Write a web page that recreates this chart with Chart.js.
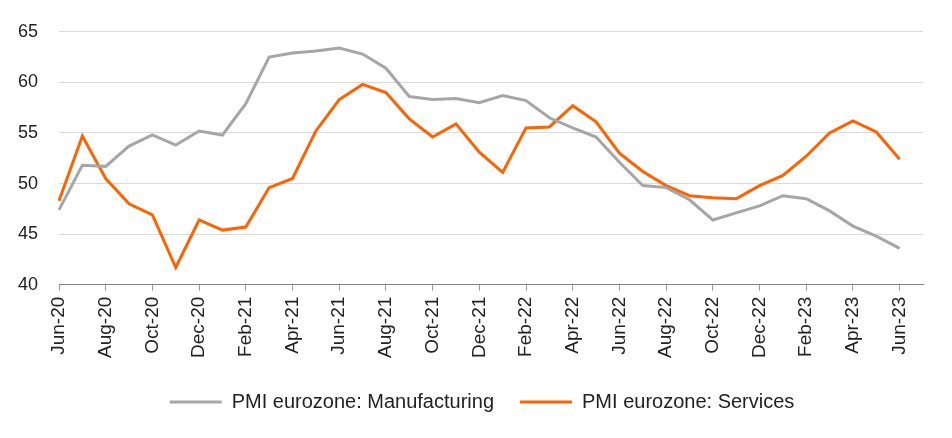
<!DOCTYPE html>
<html>
<head>
<meta charset="utf-8">
<script src="https://cdn.jsdelivr.net/npm/chart.js@4.4.0/dist/chart.umd.min.js"></script>
<style>
  html, body { margin: 0; padding: 0; background: #fff; }
  #wrap { width: 952px; height: 438px; }
</style>
</head>
<body>
<div id="wrap"><canvas id="grafico"></canvas></div>
<script>
// months Jun-20 .. Jun-23, plus one empty slot so the axis runs on past the last point
var meses = ['Jun-20','Jul-20','Aug-20','Sep-20','Oct-20','Nov-20','Dec-20',
             'Jan-21','Feb-21','Mar-21','Apr-21','May-21','Jun-21','Jul-21','Aug-21','Sep-21','Oct-21','Nov-21','Dec-21',
             'Jan-22','Feb-22','Mar-22','Apr-22','May-22','Jun-22','Jul-22','Aug-22','Sep-22','Oct-22','Nov-22','Dec-22',
             'Jan-23','Feb-23','Mar-23','Apr-23','May-23','Jun-23','Jul-23'];

var manufacturing = [47.4, 51.8, 51.7, 53.7, 54.8, 53.8, 55.2,
                     54.8, 57.9, 62.5, 62.9, 63.1, 63.4, 62.8, 61.4, 58.6, 58.3, 58.4, 58.0,
                     58.7, 58.2, 56.5, 55.5, 54.6, 52.1, 49.8, 49.6, 48.4, 46.4, 47.1, 47.8,
                     48.8, 48.5, 47.3, 45.8, 44.8, 43.6, null];

var services = [48.3, 54.7, 50.5, 48.0, 46.9, 41.7, 46.4,
                45.4, 45.7, 49.6, 50.5, 55.2, 58.3, 59.8, 59.0, 56.4, 54.6, 55.9, 53.1,
                51.1, 55.5, 55.6, 57.7, 56.1, 53.0, 51.2, 49.8, 48.8, 48.6, 48.5, 49.8,
                50.8, 52.7, 55.0, 56.2, 55.1, 52.4, null];

var yTicks = [40, 45, 50, 55, 60, 65];

var fonte = 'Liberation Sans, Arial, sans-serif';

var grafico = document.getElementById('grafico').getContext('2d');
var chart = new Chart(grafico, {
    type: 'line',
    data: {
        labels: meses,
        datasets: [
            {
                label: 'PMI eurozone: Manufacturing',
                data: manufacturing,
                borderColor: '#a6a6a6',
                backgroundColor: '#a6a6a6',
                borderWidth: 3,
                pointRadius: 0,
                tension: 0
            },
            {
                label: 'PMI eurozone: Services',
                data: services,
                borderColor: '#ff6200',
                backgroundColor: '#ff6200',
                borderWidth: 3,
                pointRadius: 0,
                tension: 0
            }
        ]
    },
    options: {
        responsive: true,
        maintainAspectRatio: false,
        animation: false,
        layout: { padding: { top: 20, right: 4, left: 16, bottom: 16 } },
        plugins: {
            tooltip: { enabled: false },
            legend: {
                position: 'bottom',
                labels: {
                    usePointStyle: true,
                    pointStyle: 'line',
                    pointStyleWidth: 52,
                    padding: 26,
                    color: '#222',
                    font: { family: fonte, size: 20 }
                }
            }
        },
        scales: {
            x: {
                offset: false,
                afterFit: function (axis) { axis.height += 2; },
                border: { display: true, color: '#808080', width: 1 },
                grid: {
                    drawOnChartArea: false,
                    drawTicks: true,
                    tickLength: 6,
                    color: function (ctx) {
                        return ctx.index % 2 === 0 ? '#999' : 'rgba(0,0,0,0)';
                    }
                },
                ticks: {
                    autoSkip: false,
                    maxRotation: 90,
                    minRotation: 90,
                    padding: 6,
                    color: '#222',
                    font: { family: fonte, size: 19 },
                    callback: function (val, i) {
                        return (i % 2 === 0 && i < 37) ? meses[i] : '';
                    }
                }
            },
            y: {
                min: 40,
                max: 65,
                afterBuildTicks: function (axis) {
                    axis.ticks = yTicks.map(function (v) { return { value: v }; });
                },
                afterFit: function (axis) { axis.width = 43; },
                border: { display: false },
                grid: { color: '#d9d9d9', drawTicks: false },
                ticks: {
                    padding: 21,
                    color: '#222',
                    font: { family: fonte, size: 18 }
                }
            },
            // empty axis on the right, only keeps a margin after the last month
            yr: {
                position: 'right',
                border: { display: false },
                grid: { display: false, drawTicks: false },
                ticks: { display: false },
                afterFit: function (axis) { axis.width = 25; }
            }
        }
    }
});
</script>
</body>
</html>
